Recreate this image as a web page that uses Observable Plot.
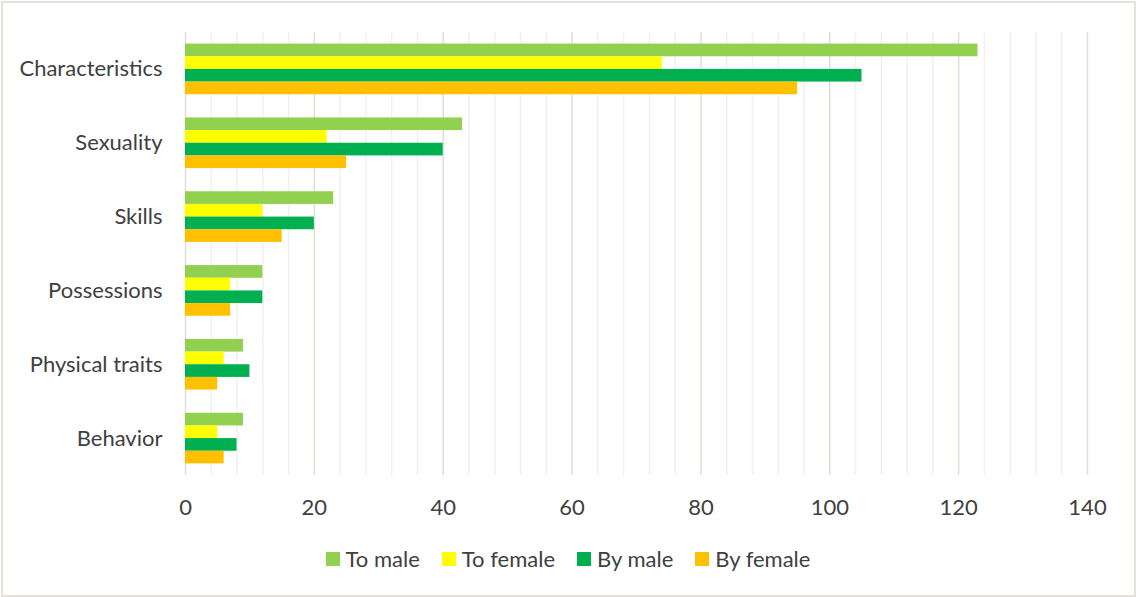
<!DOCTYPE html>
<html><head><meta charset="utf-8">
<script src="https://cdn.jsdelivr.net/npm/d3@7"></script>
<script src="https://cdn.jsdelivr.net/npm/@observablehq/plot@0.6"></script>
<style>
html,body{margin:0;padding:0;background:#fff;}
#wrap{position:relative;width:1136px;height:597px;overflow:hidden;font-family:Lato,"Open Sans",sans-serif;color:#404040;}
#frame{position:absolute;left:1px;top:1px;width:1131px;height:592px;border:2px solid #e6e2db;pointer-events:none;}
#plot{position:absolute;left:0;top:0;}
#legend{position:absolute;left:0;width:1136px;top:545px;display:flex;justify-content:center;gap:22px;font-size:22px;}
#legend .it{display:flex;align-items:center;gap:6px;}
#legend .sw{width:14px;height:14px;display:inline-block;}
</style></head>
<body><div id="wrap"><div id="plot"></div><div id="legend"></div><div id="frame"></div></div>
<script>
const categories = ["Characteristics","Sexuality","Skills","Possessions","Physical traits","Behavior"];
const seriesNames = ["To male","To female","By male","By female"];
const seriesColors = ["#92d050","#ffff00","#00b050","#ffc000"];
const toMale   = [123, 43, 23, 12, 9, 9];
const toFemale = [74, 22, 12, 7, 6, 5];
const byMale   = [105, 40, 20, 12, 10, 8];
const byFemale = [95, 25, 15, 7, 5, 6];
const xTicks = [0,20,40,60,80,100,120,140];

const seriesValues = [toMale, toFemale, byMale, byFemale];
const W = 1136, H = 530, mT = 32, mB = 55, mL = 185, mR = 49;
const padIn = 0.314, padOut = 0.157;
const step = (H - mT - mB) / (categories.length - padIn + 2*padOut);
const bw = step * (1 - padIn);
const sub = bw / 4;

const minor = d3.range(0, 141, 4).filter(v => v % 20 !== 0);

const barMarks = seriesNames.map((name, i) => Plot.barX(
  categories.map((c, j) => ({category: c, value: seriesValues[i][j]})),
  {x: "value", y: "category", fill: seriesColors[i], insetTop: i*sub, insetBottom: (3-i)*sub}
));

const chart = Plot.plot({
  width: W, height: H,
  marginTop: mT, marginBottom: mB, marginLeft: mL, marginRight: mR,
  style: {fontFamily: "Lato, 'Open Sans', sans-serif", fontSize: "22px", color: "#404040", background: "transparent"},
  x: {domain: [0, 140]},
  y: {domain: categories, paddingInner: padIn, paddingOuter: padOut, round: false},
  marks: [
    Plot.ruleX(minor, {stroke: "#f2f0eb", strokeWidth: 1.5}),
    Plot.ruleX(xTicks, {stroke: "#e2ded6", strokeWidth: 1.5}),
    ...barMarks,
    Plot.axisX({ticks: xTicks, tickSize: 0, tickPadding: 24, label: null, fill: "#404040"}),
    Plot.axisY({tickSize: 0, tickPadding: 23, label: null, fill: "#404040"})
  ]
});
document.getElementById("plot").appendChild(chart);

const lg = document.getElementById("legend");
seriesNames.forEach((n, i) => {
  const it = document.createElement("div"); it.className = "it";
  const sw = document.createElement("span"); sw.className = "sw"; sw.style.background = seriesColors[i];
  const t = document.createElement("span"); t.textContent = n;
  it.appendChild(sw); it.appendChild(t); lg.appendChild(it);
});
</script></body></html>
